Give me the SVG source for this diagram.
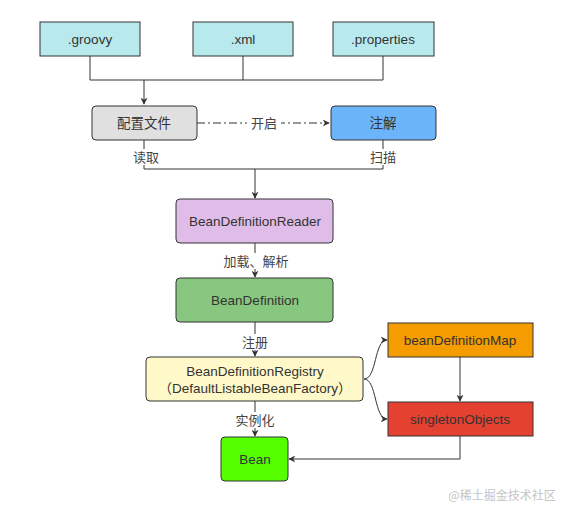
<svg xmlns="http://www.w3.org/2000/svg" width="571" height="515" viewBox="0 0 571 515">
<defs>
<marker id="arr" viewBox="0 0 10 10" refX="9" refY="5" markerWidth="7" markerHeight="7" markerUnits="userSpaceOnUse" orient="auto"><path d="M0,0 L10,5 L0,10 L3,5 Z" fill="#333"/></marker>
</defs>
<style>
.t{font-family:"Liberation Sans","Noto Sans CJK SC",sans-serif;font-size:13.5px;fill:#333;text-anchor:middle;dominant-baseline:central}
.l{font-family:"Liberation Sans","Noto Sans CJK SC",sans-serif;font-size:13px;fill:#444;text-anchor:middle;dominant-baseline:central}
.e{fill:none;stroke:#333;stroke-width:1}
.b{stroke:#333;stroke-width:1}
</style>
<rect width="571" height="515" fill="#fff"/>
<g id="connectors">
<path class="e" d="M90,56 V80 H383 V56 M243,56 V80"/>
<path class="e" d="M144,80 V104" marker-end="url(#arr)"/>
<path class="e" d="M197,123 H329" stroke-dasharray="8,3,2,3" marker-end="url(#arr)"/>
<rect x="247" y="115" width="34" height="16" fill="#fff"/>
<text class="l" x="264" y="123">开启</text>
<path class="e" d="M144,140 V169 H383 V140 M255,169 V198"/>
<path class="e" d="M255,196 V198" marker-end="url(#arr)"/>
<rect x="130" y="149" width="28" height="16" fill="#fff"/>
<text class="l" x="146" y="157">读取</text>
<rect x="369" y="149" width="28" height="16" fill="#fff"/>
<text class="l" x="383" y="157">扫描</text>
<path class="e" d="M255,243 V277" marker-end="url(#arr)"/>
<rect x="220" y="253" width="72" height="16" fill="#fff"/>
<text class="l" x="256" y="261">加载、解析</text>
<path class="e" d="M255,322 V356" marker-end="url(#arr)"/>
<rect x="240" y="334" width="30" height="16" fill="#fff"/>
<text class="l" x="255" y="342">注册</text>
<path class="e" d="M255,401 V436" marker-end="url(#arr)"/>
<rect x="233" y="412" width="44" height="16" fill="#fff"/>
<text class="l" x="255" y="420">实例化</text>
<path class="e" d="M364,379 C377,379 374,340 387,340" marker-end="url(#arr)"/>
<path class="e" d="M364,379 C377,379 374,419 387,419" marker-end="url(#arr)"/>
<path class="e" d="M460,357 V401" marker-end="url(#arr)"/>
<path class="e" d="M460,436 V459 H289" marker-end="url(#arr)"/>
</g>
<g id="groovy"><rect class="b" x="40" y="22" width="100" height="34" fill="#b8eaed"/><text class="t" x="90" y="39">.groovy</text></g>
<g id="xml"><rect class="b" x="193" y="22" width="100" height="34" fill="#b8eaed"/><text class="t" x="243" y="39">.xml</text></g>
<g id="properties"><rect class="b" x="333" y="22" width="101" height="34" fill="#b8eaed"/><text class="t" x="383" y="39">.properties</text></g>
<g id="config"><rect class="b" x="92" y="106" width="105" height="34" rx="4" fill="#e0e0e0"/><text class="t" x="144" y="123">配置文件</text></g>
<g id="annotation"><rect class="b" x="331" y="106" width="105" height="34" rx="4" fill="#6cb4f9"/><text class="t" x="383" y="123">注解</text></g>
<g id="reader"><rect class="b" x="176" y="199" width="157" height="44" rx="4" fill="#e0bde8"/><text class="t" x="255" y="221">BeanDefinitionReader</text></g>
<g id="beandefinition"><rect class="b" x="176" y="278" width="157" height="44" rx="4" fill="#88c780"/><text class="t" x="255" y="300">BeanDefinition</text></g>
<g id="registry"><rect class="b" x="146" y="357" width="217" height="44" rx="4" fill="#fff9c9"/><text class="t" x="255" y="371">BeanDefinitionRegistry</text><text class="t" x="255" y="388">（DefaultListableBeanFactory）</text></g>
<g id="bean"><rect class="b" x="221" y="437" width="67" height="44" rx="4" fill="#55ff00"/><text class="t" x="255" y="459">Bean</text></g>
<g id="map"><rect class="b" x="388" y="323" width="145" height="34" fill="#f59c00"/><text class="t" x="460" y="340">beanDefinitionMap</text></g>
<g id="singleton"><rect class="b" x="388" y="402" width="145" height="34" fill="#e54131"/><text class="t" x="460" y="419">singletonObjects</text></g>
<text x="502" y="494" font-family="'Noto Sans CJK SC',sans-serif" font-size="12" fill="#c4c4c4" text-anchor="middle" dominant-baseline="central">@稀土掘金技术社区</text>
</svg>
